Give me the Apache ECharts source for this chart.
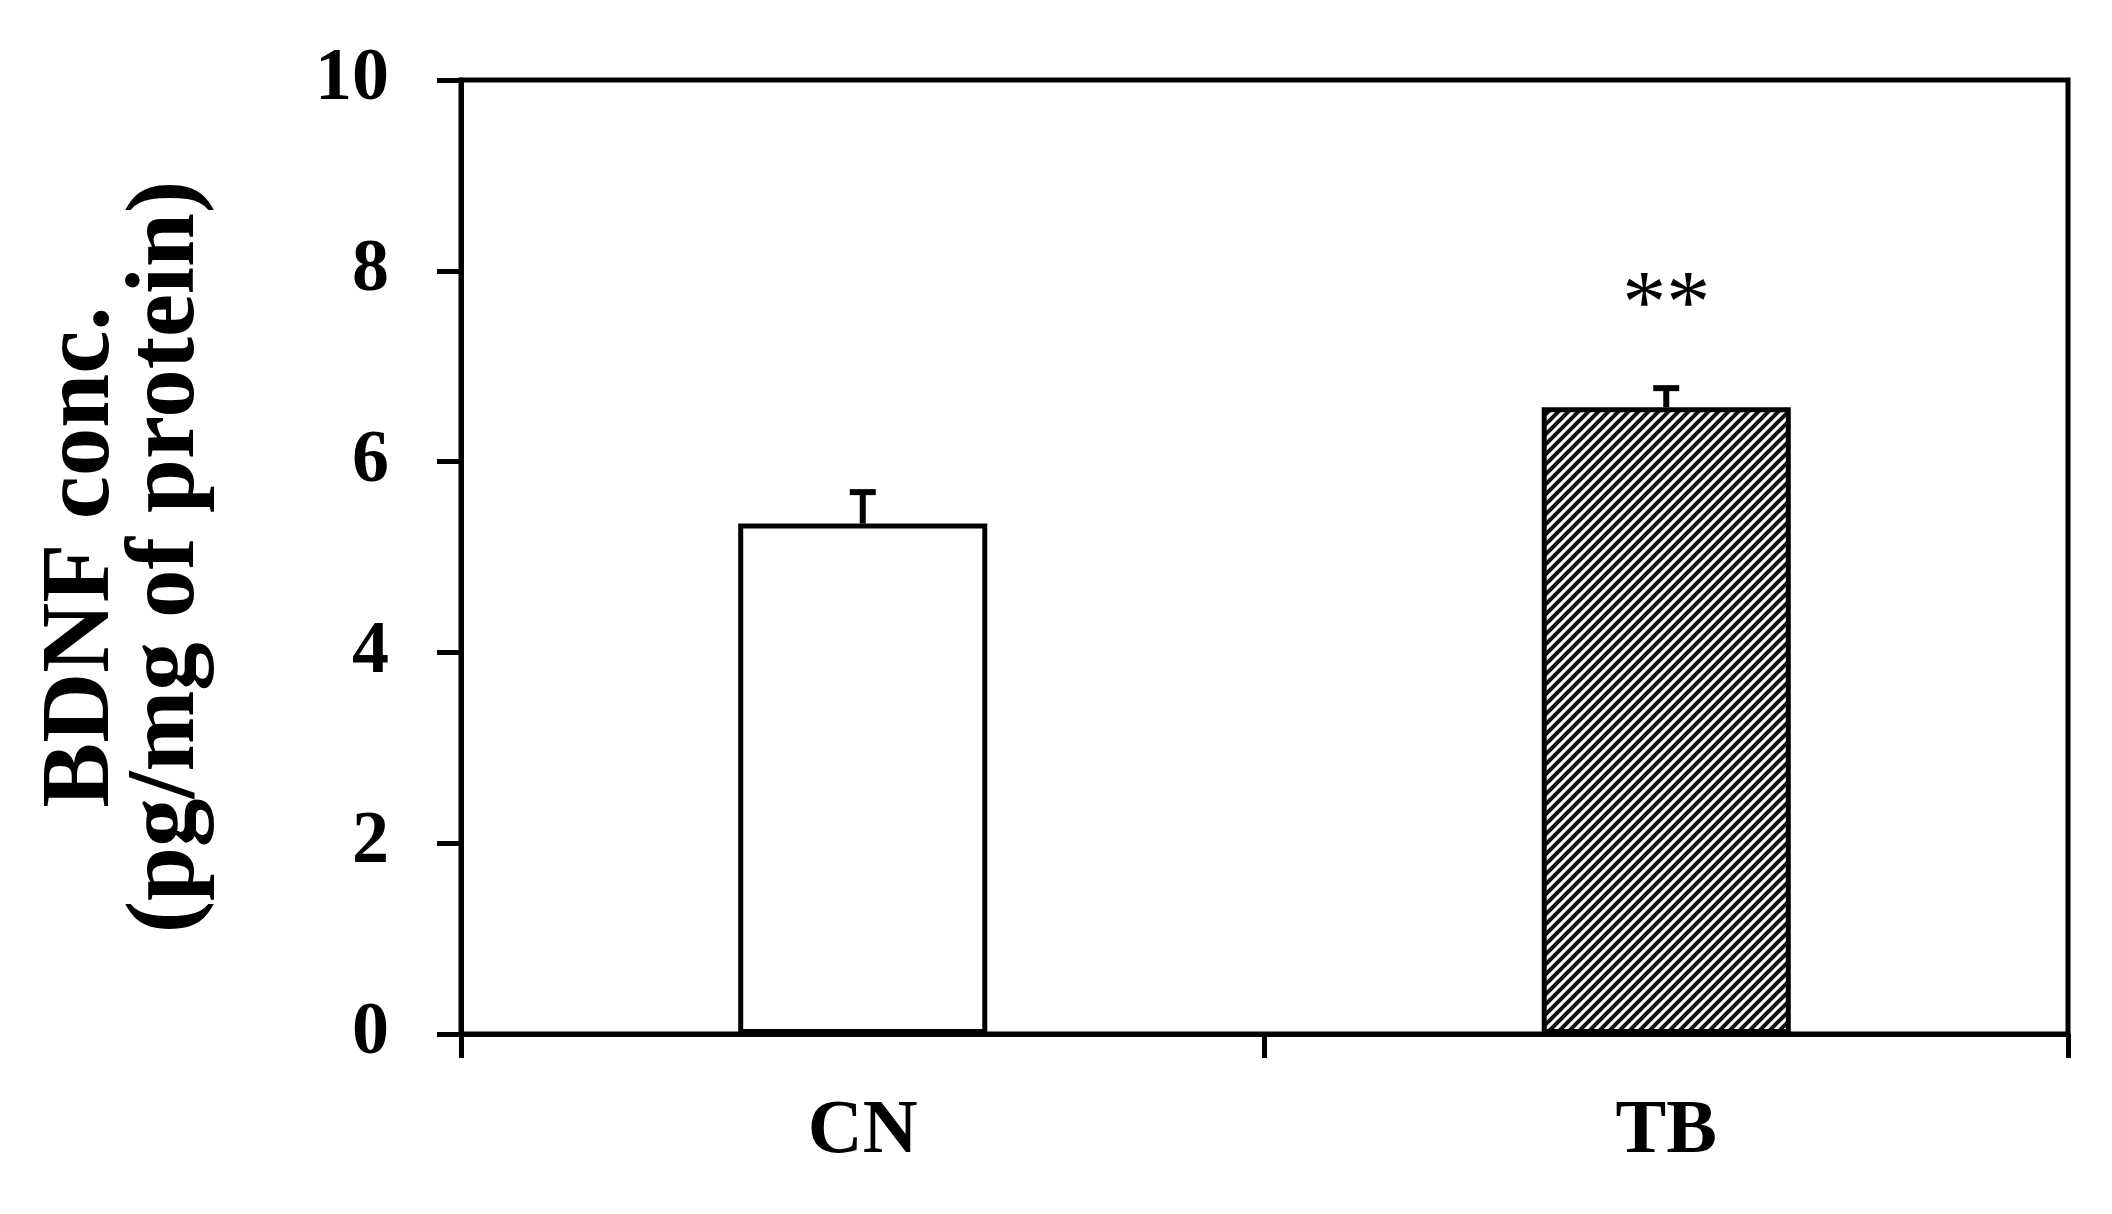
<!DOCTYPE html>
<html>
<head>
<meta charset="utf-8">
<script src="https://cdn.jsdelivr.net/npm/echarts@6/dist/echarts.min.js"></script>
<style>
html,body{margin:0;padding:0;background:#fff;}
#chart{width:2112px;height:1214px;}
</style>
</head>
<body>
<div id="chart"></div>
<script>
// ---- data ----
const categories = ['CN', 'TB'];
const means = [5.35, 6.57];
const errors = [0.33, 0.20];
const sigMarks = ['', '**'];
const sigValues = [null, 7.8];
const yMin = 0, yMax = 10, yInterval = 2;
const yAxisTitle = 'BDNF conc.\n(pg/mg of protein)';

// ---- styles ----
const FONT = '"Liberation Serif", "DejaVu Serif", serif';
function hatch() {
  const c = document.createElement('canvas');
  c.width = 10; c.height = 10;
  const g = c.getContext('2d');
  g.fillStyle = '#fff'; g.fillRect(0, 0, 10, 10);
  g.strokeStyle = '#111'; g.lineWidth = 4;
  g.beginPath();
  g.moveTo(-5, 5); g.lineTo(5, -5);
  g.moveTo(0, 10); g.lineTo(10, 0);
  g.moveTo(5, 15); g.lineTo(15, 5);
  g.stroke();
  return c;
}
const fills = ['#ffffff', { image: hatch(), repeat: 'repeat' }];

const chart = echarts.init(document.getElementById('chart'));
chart.setOption({
  animation: false,
  backgroundColor: '#fff',
  grid: { left: 461, right: 44, top: 80, bottom: 180, show: true, borderColor: '#000', borderWidth: 5, backgroundColor: 'transparent' },
  xAxis: {
    type: 'category',
    data: categories,
    axisLine: { lineStyle: { color: '#000', width: 5 } },
    axisTick: { show: true, length: 24, lineStyle: { color: '#000', width: 5 } },
    axisLabel: { color: '#000', fontFamily: FONT, fontWeight: 'bold', fontSize: 76, margin: 60 }
  },
  yAxis: {
    type: 'value',
    min: yMin, max: yMax, interval: yInterval,
    axisLine: { show: true, lineStyle: { color: '#000', width: 5 } },
    axisTick: { show: true, length: 24, lineStyle: { color: '#000', width: 5 } },
    splitLine: { show: false },
    axisLabel: { color: '#000', fontFamily: FONT, fontWeight: 'bold', fontSize: 74, margin: 72 },
    name: yAxisTitle,
    nameLocation: 'middle',
    nameRotate: 90,
    nameGap: 251,
    nameTextStyle: { color: '#000', fontFamily: FONT, fontWeight: 'bold', fontSize: 97, lineHeight: 85 }
  },
  series: [
    {
      type: 'bar',
      barWidth: '31%',
      data: means.map((v, i) => ({ value: v, itemStyle: { color: fills[i] } })),
      itemStyle: { borderColor: '#000', borderWidth: 5 }
    },
    {
      type: 'custom',
      data: means.map((v, i) => [i, v, errors[i]]),
      encode: { x: 0, y: 1 },
      z: 5,
      renderItem: function (params, api) {
        const i = api.value(0), m = api.value(1), e = api.value(2);
        const b = api.coord([i, m]);
        const t = api.coord([i, m + e]);
        const cap = 13;
        return {
          type: 'group',
          children: [
            { type: 'line', shape: { x1: b[0], y1: b[1], x2: t[0], y2: t[1] }, style: { stroke: '#000', lineWidth: 6 } },
            { type: 'line', shape: { x1: t[0] - cap, y1: t[1], x2: t[0] + cap, y2: t[1] }, style: { stroke: '#000', lineWidth: 6 } }
          ]
        };
      }
    },
    {
      type: 'custom',
      data: sigValues.map((v, i) => [i, v == null ? 0 : v]),
      encode: { x: 0, y: 1 },
      z: 6,
      renderItem: function (params, api) {
        const txt = sigMarks[params.dataIndex];
        if (!txt) return null;
        const p = api.coord([api.value(0), api.value(1)]);
        return {
          type: 'text',
          x: p[0], y: p[1] + 18,
          style: { text: txt, fill: '#000', font: 'normal 88px ' + FONT, textAlign: 'center', textVerticalAlign: 'middle' }
        };
      }
    }
  ]
});
</script>
</body>
</html>
